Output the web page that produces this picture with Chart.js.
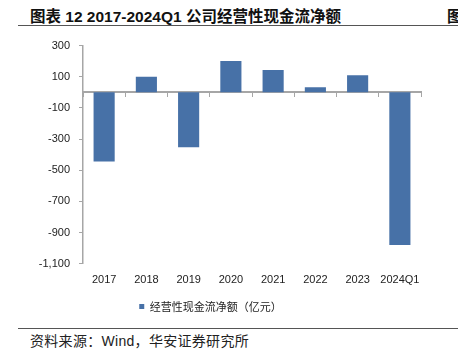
<!DOCTYPE html>
<html>
<head>
<meta charset="utf-8">
<script src="https://cdn.jsdelivr.net/npm/chart.js@4.4.1/dist/chart.umd.min.js"></script>
<style>
  body { margin: 0; background: #fff; }
  #page { position: relative; width: 458px; height: 351px; overflow: hidden; font-family: "Liberation Sans", "Noto Sans CJK SC", sans-serif; }
  #title { position: absolute; left: 30px; top: 4px; font-size: 15.5px; font-weight: bold; color: #111; white-space: nowrap; }
  #clip { position: absolute; left: 447px; top: 4px; font-size: 15.5px; font-weight: bold; color: #111; }
  .rule { position: absolute; left: 18px; right: 0; height: 1px; background: #555; }
  #source { position: absolute; left: 30px; top: 330px; font-size: 14px; color: #222; white-space: nowrap; letter-spacing: 0.3px; }
  #wrap { position: absolute; left: 0; top: 30px; width: 458px; height: 296px; }
</style>
</head>
<body>
<div id="page">
  <div id="title">图表 12 2017-2024Q1 公司经营性现金流净额</div>
  <div id="clip">图</div>
  <div class="rule" style="top:25px"></div>
  <div id="wrap"><canvas id="chart"></canvas></div>
  <div class="rule" style="top:328px"></div>
  <div id="source">资料来源：Wind，华安证券研究所</div>
</div>
<script>
// Data
const years = ['2017', '2018', '2019', '2020', '2021', '2022', '2023', '2024Q1'];
const cashFlow = [-443, 100, -353, 201, 143, 33, 109, -980];
const seriesName = '经营性现金流净额（亿元）';

const axisGray = '#A6A6A6';
const tickFont = { family: 'Liberation Sans', size: 11 };

const ctx = document.getElementById('chart');

const config = {
  type: 'bar',
  data: {
    labels: years,
    datasets: [
      {
        label: seriesName,
        data: cashFlow,
        backgroundColor: '#4771A7',
        borderWidth: 0,
        barPercentage: 0.5,
        categoryPercentage: 1,
      },
    ],
  },
  options: {
    responsive: true,
    maintainAspectRatio: false,
    animation: false,
    layout: {
      padding: { left: 0, right: 37, top: 10, bottom: 4 },
    },
    scales: {
      x: {
        grid: { display: false },
        border: { display: false },
        ticks: { color: '#222', font: tickFont, padding: 2, maxRotation: 0, autoSkip: false },
      },
      // zero line with category separators
      x2: {
        type: 'category',
        position: { y: 0 },
        grid: {
          offset: true,
          drawOnChartArea: false,
          color: axisGray,
          tickLength: 4,
        },
        border: { color: axisGray, width: 2 },
        ticks: { display: false },
      },
      y: {
        min: -1100,
        max: 300,
        afterFit: (scale) => {
          scale.width = 83;
        },
        ticks: {
          stepSize: 200,
          color: '#222',
          font: tickFont,
          padding: 9,
        },
        grid: {
          drawOnChartArea: false,
          color: axisGray,
          tickLength: 4,
        },
        border: { color: axisGray, width: 1.5 },
      },
    },
    plugins: {
      legend: {
        position: 'bottom',
        labels: {
          boxWidth: 5,
          boxHeight: 5,
          padding: 12,
          color: '#222',
          font: { family: 'Noto Sans CJK SC', size: 11 },
        },
      },
      tooltip: { enabled: false },
    },
  },
};

new Chart(ctx, config);
</script>
</body>
</html>
